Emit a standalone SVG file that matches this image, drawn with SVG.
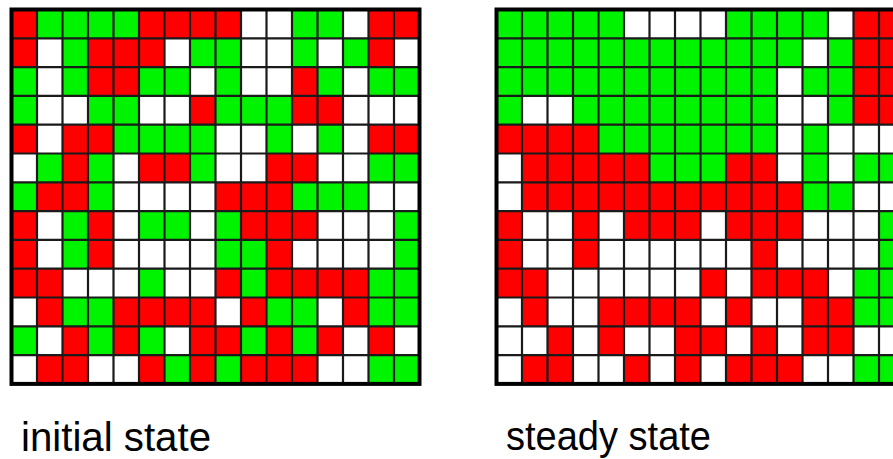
<svg xmlns="http://www.w3.org/2000/svg" width="893" height="459" viewBox="0 0 893 459">
<style>
.r{fill:#ff0000}
.g{fill:#00f400}
.bg{fill:#ffffff}
.ln{fill:none;stroke:#1a1a1a;stroke-width:2.2}
.bd{fill:none;stroke:#000000;stroke-width:4}
.lbl{font-family:"Liberation Sans",Arial,sans-serif;font-size:40px;fill:#000000}
</style>
<defs>
<path id="lines" class="ln" d="M25.5 0V374.4M51 0V374.4M76.5 0V374.4M102 0V374.4M127.5 0V374.4M153 0V374.4M178.5 0V374.4M204 0V374.4M229.5 0V374.4M255 0V374.4M280.5 0V374.4M306 0V374.4M331.5 0V374.4M357 0V374.4M382.5 0V374.4M0 28.8H408M0 57.6H408M0 86.4H408M0 115.2H408M0 144H408M0 172.8H408M0 201.6H408M0 230.4H408M0 259.2H408M0 288H408M0 316.8H408M0 345.6H408"/>
</defs>
<rect width="893" height="459" fill="#ffffff"/>
<g id="initial-grid" transform="translate(11.5,9.5)">
<rect class="bg" width="408" height="374.4"/>
<g id="initial-cells">
<rect class="r" x="0" y="0" width="25.5" height="28.8"/><rect class="g" x="25.5" y="0" width="102" height="28.8"/><rect class="r" x="127.5" y="0" width="102" height="28.8"/><rect class="g" x="280.5" y="0" width="51" height="28.8"/><rect class="r" x="357" y="0" width="51" height="28.8"/>
<rect class="r" x="0" y="28.8" width="25.5" height="28.8"/><rect class="g" x="51" y="28.8" width="25.5" height="28.8"/><rect class="r" x="76.5" y="28.8" width="76.5" height="28.8"/><rect class="g" x="178.5" y="28.8" width="51" height="28.8"/><rect class="g" x="280.5" y="28.8" width="25.5" height="28.8"/><rect class="g" x="331.5" y="28.8" width="25.5" height="28.8"/><rect class="r" x="357" y="28.8" width="25.5" height="28.8"/>
<rect class="g" x="0" y="57.6" width="25.5" height="28.8"/><rect class="g" x="51" y="57.6" width="25.5" height="28.8"/><rect class="r" x="76.5" y="57.6" width="51" height="28.8"/><rect class="g" x="127.5" y="57.6" width="51" height="28.8"/><rect class="g" x="204" y="57.6" width="25.5" height="28.8"/><rect class="r" x="280.5" y="57.6" width="25.5" height="28.8"/><rect class="g" x="306" y="57.6" width="25.5" height="28.8"/><rect class="g" x="357" y="57.6" width="51" height="28.8"/>
<rect class="g" x="0" y="86.4" width="25.5" height="28.8"/><rect class="g" x="76.5" y="86.4" width="51" height="28.8"/><rect class="r" x="178.5" y="86.4" width="25.5" height="28.8"/><rect class="g" x="204" y="86.4" width="76.5" height="28.8"/><rect class="r" x="280.5" y="86.4" width="51" height="28.8"/>
<rect class="r" x="0" y="115.2" width="25.5" height="28.8"/><rect class="r" x="51" y="115.2" width="51" height="28.8"/><rect class="g" x="102" y="115.2" width="102" height="28.8"/><rect class="g" x="255" y="115.2" width="25.5" height="28.8"/><rect class="g" x="306" y="115.2" width="25.5" height="28.8"/><rect class="r" x="357" y="115.2" width="51" height="28.8"/>
<rect class="g" x="25.5" y="144" width="25.5" height="28.8"/><rect class="r" x="51" y="144" width="25.5" height="28.8"/><rect class="g" x="76.5" y="144" width="25.5" height="28.8"/><rect class="r" x="127.5" y="144" width="51" height="28.8"/><rect class="g" x="178.5" y="144" width="25.5" height="28.8"/><rect class="r" x="255" y="144" width="51" height="28.8"/><rect class="g" x="357" y="144" width="51" height="28.8"/>
<rect class="g" x="0" y="172.8" width="25.5" height="28.8"/><rect class="r" x="25.5" y="172.8" width="51" height="28.8"/><rect class="g" x="76.5" y="172.8" width="25.5" height="28.8"/><rect class="r" x="204" y="172.8" width="76.5" height="28.8"/><rect class="g" x="280.5" y="172.8" width="76.5" height="28.8"/>
<rect class="r" x="0" y="201.6" width="25.5" height="28.8"/><rect class="g" x="51" y="201.6" width="25.5" height="28.8"/><rect class="r" x="76.5" y="201.6" width="25.5" height="28.8"/><rect class="g" x="127.5" y="201.6" width="51" height="28.8"/><rect class="g" x="204" y="201.6" width="25.5" height="28.8"/><rect class="r" x="229.5" y="201.6" width="76.5" height="28.8"/><rect class="g" x="382.5" y="201.6" width="25.5" height="28.8"/>
<rect class="r" x="0" y="230.4" width="25.5" height="28.8"/><rect class="g" x="51" y="230.4" width="25.5" height="28.8"/><rect class="r" x="76.5" y="230.4" width="25.5" height="28.8"/><rect class="g" x="204" y="230.4" width="51" height="28.8"/><rect class="r" x="255" y="230.4" width="25.5" height="28.8"/><rect class="g" x="382.5" y="230.4" width="25.5" height="28.8"/>
<rect class="r" x="0" y="259.2" width="51" height="28.8"/><rect class="g" x="127.5" y="259.2" width="25.5" height="28.8"/><rect class="r" x="204" y="259.2" width="25.5" height="28.8"/><rect class="g" x="229.5" y="259.2" width="25.5" height="28.8"/><rect class="r" x="255" y="259.2" width="102" height="28.8"/><rect class="g" x="357" y="259.2" width="51" height="28.8"/>
<rect class="r" x="25.5" y="288" width="25.5" height="28.8"/><rect class="g" x="51" y="288" width="51" height="28.8"/><rect class="r" x="102" y="288" width="102" height="28.8"/><rect class="r" x="229.5" y="288" width="25.5" height="28.8"/><rect class="g" x="255" y="288" width="51" height="28.8"/><rect class="r" x="331.5" y="288" width="25.5" height="28.8"/><rect class="g" x="357" y="288" width="51" height="28.8"/>
<rect class="g" x="0" y="316.8" width="25.5" height="28.8"/><rect class="r" x="51" y="316.8" width="25.5" height="28.8"/><rect class="g" x="76.5" y="316.8" width="25.5" height="28.8"/><rect class="r" x="102" y="316.8" width="25.5" height="28.8"/><rect class="g" x="127.5" y="316.8" width="25.5" height="28.8"/><rect class="r" x="178.5" y="316.8" width="51" height="28.8"/><rect class="g" x="229.5" y="316.8" width="25.5" height="28.8"/><rect class="r" x="255" y="316.8" width="25.5" height="28.8"/><rect class="g" x="280.5" y="316.8" width="25.5" height="28.8"/><rect class="r" x="306" y="316.8" width="25.5" height="28.8"/><rect class="r" x="357" y="316.8" width="25.5" height="28.8"/>
<rect class="r" x="25.5" y="345.6" width="51" height="28.8"/><rect class="r" x="127.5" y="345.6" width="25.5" height="28.8"/><rect class="g" x="153" y="345.6" width="25.5" height="28.8"/><rect class="r" x="178.5" y="345.6" width="25.5" height="28.8"/><rect class="g" x="204" y="345.6" width="25.5" height="28.8"/><rect class="r" x="229.5" y="345.6" width="76.5" height="28.8"/><rect class="g" x="357" y="345.6" width="51" height="28.8"/>
</g>
<use href="#lines"/>
<rect class="bd" width="408" height="374.4"/>
</g>
<g id="steady-grid" transform="translate(496.5,9.5)">
<rect class="bg" width="408" height="374.4"/>
<g id="steady-cells">
<rect class="g" x="0" y="0" width="127.5" height="28.8"/><rect class="g" x="229.5" y="0" width="102" height="28.8"/><rect class="r" x="357" y="0" width="51" height="28.8"/>
<rect class="g" x="0" y="28.8" width="306" height="28.8"/><rect class="g" x="331.5" y="28.8" width="25.5" height="28.8"/><rect class="r" x="357" y="28.8" width="51" height="28.8"/>
<rect class="g" x="0" y="57.6" width="280.5" height="28.8"/><rect class="g" x="306" y="57.6" width="51" height="28.8"/><rect class="r" x="357" y="57.6" width="51" height="28.8"/>
<rect class="g" x="0" y="86.4" width="25.5" height="28.8"/><rect class="g" x="76.5" y="86.4" width="204" height="28.8"/><rect class="g" x="331.5" y="86.4" width="25.5" height="28.8"/><rect class="r" x="357" y="86.4" width="51" height="28.8"/>
<rect class="r" x="0" y="115.2" width="102" height="28.8"/><rect class="g" x="102" y="115.2" width="178.5" height="28.8"/><rect class="g" x="306" y="115.2" width="25.5" height="28.8"/>
<rect class="r" x="25.5" y="144" width="127.5" height="28.8"/><rect class="g" x="153" y="144" width="76.5" height="28.8"/><rect class="r" x="229.5" y="144" width="51" height="28.8"/><rect class="g" x="306" y="144" width="25.5" height="28.8"/><rect class="g" x="357" y="144" width="51" height="28.8"/>
<rect class="r" x="25.5" y="172.8" width="280.5" height="28.8"/><rect class="g" x="306" y="172.8" width="51" height="28.8"/>
<rect class="r" x="0" y="201.6" width="25.5" height="28.8"/><rect class="r" x="76.5" y="201.6" width="25.5" height="28.8"/><rect class="r" x="127.5" y="201.6" width="76.5" height="28.8"/><rect class="r" x="229.5" y="201.6" width="76.5" height="28.8"/><rect class="g" x="382.5" y="201.6" width="25.5" height="28.8"/>
<rect class="r" x="0" y="230.4" width="25.5" height="28.8"/><rect class="r" x="76.5" y="230.4" width="25.5" height="28.8"/><rect class="r" x="255" y="230.4" width="25.5" height="28.8"/><rect class="g" x="382.5" y="230.4" width="25.5" height="28.8"/>
<rect class="r" x="0" y="259.2" width="51" height="28.8"/><rect class="r" x="204" y="259.2" width="25.5" height="28.8"/><rect class="r" x="255" y="259.2" width="76.5" height="28.8"/><rect class="g" x="357" y="259.2" width="51" height="28.8"/>
<rect class="r" x="25.5" y="288" width="25.5" height="28.8"/><rect class="r" x="102" y="288" width="102" height="28.8"/><rect class="r" x="229.5" y="288" width="25.5" height="28.8"/><rect class="r" x="306" y="288" width="51" height="28.8"/><rect class="g" x="357" y="288" width="51" height="28.8"/>
<rect class="r" x="51" y="316.8" width="25.5" height="28.8"/><rect class="r" x="102" y="316.8" width="25.5" height="28.8"/><rect class="r" x="178.5" y="316.8" width="51" height="28.8"/><rect class="r" x="255" y="316.8" width="25.5" height="28.8"/><rect class="r" x="306" y="316.8" width="51" height="28.8"/>
<rect class="r" x="25.5" y="345.6" width="51" height="28.8"/><rect class="r" x="127.5" y="345.6" width="25.5" height="28.8"/><rect class="r" x="178.5" y="345.6" width="25.5" height="28.8"/><rect class="r" x="229.5" y="345.6" width="76.5" height="28.8"/><rect class="g" x="357" y="345.6" width="51" height="28.8"/>
</g>
<use href="#lines"/>
<rect class="bd" width="408" height="374.4"/>
</g>
<g id="labels">
<text class="lbl" x="21" y="451" textLength="190" lengthAdjust="spacingAndGlyphs">initial state</text>
<text class="lbl" x="506" y="450" textLength="205" lengthAdjust="spacingAndGlyphs">steady state</text>
</g>
</svg>
